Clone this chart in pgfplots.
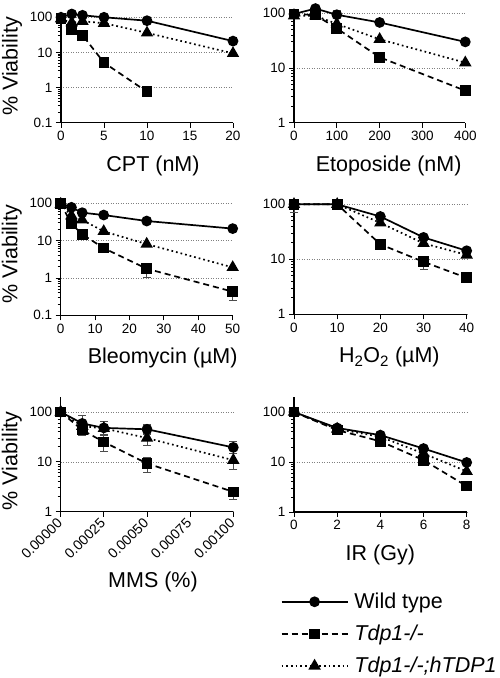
\documentclass[border=0pt]{standalone}
\usepackage{fontspec}
\setmainfont{Liberation Sans}
\usepackage{pgfplots}
\pgfplotsset{compat=1.18}
\pgfplotsset{
  vpanel/.style={
    scale only axis,
    axis lines=left,
    axis line style={-, line width=1.1pt},
    tick align=outside,
    major tick length=5pt,
    minor tick length=3pt,
    every tick/.style={black, line width=0.9pt},
    ymajorgrids,
    major grid style={gray, dash pattern=on 1pt off 1.5pt, line width=0.5pt},
    enlargelimits=false,
    clip=false,
    scaled x ticks=false,
    xtick pos=bottom, ytick pos=left,
    tick label style={font=\fontsize{13.5}{15}\selectfont},
    label style={font=\fontsize{21.5}{25}\selectfont},
    xlabel style={at={(axis description cs:0.5,0)}, anchor=center, yshift=-43pt},
    ylabel style={at={(axis description cs:0,0.5)}, anchor=center, yshift=49pt},
  },
  ebar/.style={error bars/.cd, y dir=both, y explicit,
    error bar style={line width=0.9pt, black!70, solid},
    error mark options={rotate=90, mark size=4pt, line width=0.9pt, black!70}},
  wt/.style={black, line width=1.7pt, solid, mark=*, mark size=4.5pt, mark options={solid, fill=black}},
  ko/.style={black, line width=1.7pt, dash pattern=on 6pt off 4pt, mark=square*, mark size=4.5pt, mark options={solid, fill=black}},
  re/.style={black, line width=1.7pt, dash pattern=on 1.7pt off 3pt, mark=triangle*, mark size=5.5pt, mark options={solid, fill=black}},
}
\begin{document}
\begin{tikzpicture}
\path[use as bounding box] (0pt,0pt) rectangle (500pt,678pt);

% ---------- CPT ----------
\begin{axis}[vpanel, ymode=log, /pgf/number format/assume math mode=true,
  at={(61pt,555.3pt)}, anchor=south west, width=172pt, height=105.4pt,
  xmin=0, xmax=20, ymin=0.1, ymax=100,
  xtick={0,5,10,15,20}, ytick={0.1,1,10,100}, yticklabels={0.1,1,10,100},
  xlabel={CPT (nM)}, ylabel={\% Viability},
  xlabel style={xshift=6pt}, ylabel style={xshift=3.5pt}]
\addplot[wt] coordinates {(0,100) (1.25,124) (2.5,114) (5,100) (10,80) (20,21)};
\addplot[re] coordinates {(0,90) (1.25,70) (2.5,77) (5,68) (10,36) (20,9.4)};
\addplot[ko] coordinates {(0,94) (1.25,45) (2.5,31) (5,5.1) (10,0.76)};
\end{axis}

% ---------- Etoposide ----------
\begin{axis}[vpanel, ymode=log, /pgf/number format/assume math mode=true,
  at={(294pt,555.3pt)}, anchor=south west, width=171.3pt, height=109.4pt,
  xmin=0, xmax=400, ymin=1, ymax=100,
  xtick={0,100,200,300,400}, ytick={1,10,100}, yticklabels={1,10,100},
  xlabel={Etoposide (nM)}, xlabel style={xshift=9pt}]
\addplot[wt, ebar] coordinates {(0,97) (50,122) (100,94) += (0,21) -= (0,10) (200,68) (400,30)};
\addplot[re] coordinates {(0,90) (50,90) (100,64) (200,33.5) (400,12.5)};
\addplot[ko] coordinates {(0,97) (50,93) (100,53) (200,15.7) (400,3.85)};
\end{axis}

% ---------- Bleomycin ----------
\begin{axis}[vpanel, ymode=log, /pgf/number format/assume math mode=true,
  at={(60.7pt,362.7pt)}, anchor=south west, width=172pt, height=112pt,
  xmin=0, xmax=50, ymin=0.1, ymax=100,
  xtick={0,10,20,30,40,50}, ytick={0.1,1,10,100}, yticklabels={0.1,1,10,100},
  xlabel={Bleomycin (\textmu M)}, ylabel={\% Viability},
  xlabel style={xshift=16pt}, ylabel style={xshift=5pt}]
\addplot[wt] coordinates {(0,100) (3.125,78) (6.25,56) (12.5,48.5) (25,33.5) (50,21)};
\addplot[re] coordinates {(0,95) (3.125,46.5) (6.25,36) (12.5,17.7) (25,8.1) (50,1.92)};
\addplot[ko, ebar] coordinates {(0,100) (3.125,28) (6.25,14.8) (12.5,6.3) (25,1.77) += (0,0.7) -= (0,0.75) (50,0.43) += (0,0.15) -= (0,0.185)};
\end{axis}

% ---------- H2O2 ----------
\begin{axis}[vpanel, ymode=log, /pgf/number format/assume math mode=true,
  at={(294pt,363.7pt)}, anchor=south west, width=172.7pt, height=110pt,
  xmin=0, xmax=40, ymin=1, ymax=100,
  xtick={0,10,20,30,40}, ytick={1,10,100}, yticklabels={1,10,100},
  xlabel={H\textsubscript{2}O\textsubscript{2} (\textmu M)}, xlabel style={xshift=9pt}]
\addplot[wt] coordinates {(0,100) (10,100) (20,60) (30,25) (40,14.3)};
\addplot[re] coordinates {(0,100) (10,100) (20,46) (30,19.5) (40,12)};
\addplot[ko, ebar] coordinates {(0,100) += (0,0) -= (0,30) (10,100) (20,18.7) (30,9.0) += (0,1.3) -= (0,2.4) (40,4.6)};
\end{axis}

% ---------- MMS ----------
\begin{axis}[vpanel, ymode=log, /pgf/number format/assume math mode=true,
  at={(60.7pt,166.3pt)}, anchor=south west, width=172.6pt, height=114.7pt,
  xmin=0, xmax=0.001, ymin=1, ymax=200,
  xtick={0,0.00025,0.0005,0.00075,0.001},
  xticklabels={0.00000,0.00025,0.00050,0.00075,0.00100},
  xticklabel style={rotate=45, anchor=east, font=\fontsize{14}{16}\selectfont, yshift=-2pt},
  ytick={1,10,100}, yticklabels={1,10,100},
  xlabel={MMS (\%)}, ylabel={\% Viability},
  xlabel style={xshift=6pt, yshift=-27pt}, ylabel style={xshift=-6.5pt}]
\addplot[wt, ebar] coordinates {(0,100) (0.000125,59) += (0,28) -= (0,15) (0.00025,48) += (0,17) -= (0,13) (0.0005,45) += (0,10) -= (0,7) (0.001,19.5) += (0,6) -= (0,4.5)};
\addplot[re, ebar] coordinates {(0,100) (0.000125,52) (0.00025,47) (0.0005,30) += (0,6) -= (0,9) (0.001,10.8) += (0,4) -= (0,3.9)};
\addplot[ko, ebar] coordinates {(0,100) (0.000125,43.5) += (0,12) -= (0,10) (0.00025,25) += (0,9.6) -= (0,9.2) (0.0005,9.3) += (0,3.1) -= (0,3.3) (0.001,2.5) += (0,0.6) -= (0,0.7)};
\end{axis}

% ---------- IR ----------
\begin{axis}[vpanel, ymode=log, /pgf/number format/assume math mode=true,
  at={(294pt,166pt)}, anchor=south west, width=172.7pt, height=115pt,
  xmin=0, xmax=8, ymin=1, ymax=200,
  xtick={0,2,4,6,8}, ytick={1,10,100}, yticklabels={1,10,100},
  xlabel={IR (Gy)},
  legend style={at={(axis description cs:-0.078,-0.696)}, anchor=north west, draw=none, fill=none,
    font=\fontsize{21.5}{26}\selectfont, inner sep=0pt, row sep=13pt,
    nodes={inner sep=1pt},
    /tikz/every odd column/.append style={column sep=5pt}},
  legend cell align=left,
  legend image code/.code={\draw[mark repeat=2,mark phase=2,#1] plot coordinates {(0pt,0pt) (33pt,0pt) (66pt,0pt)};}]
\addlegendimage{wt}\addlegendentry{Wild type}
\addlegendimage{ko}\addlegendentry{\textit{Tdp1-/-}}
\addlegendimage{re}\addlegendentry{\textit{Tdp1-/-;hTDP1}}
\addplot[wt, forget plot] coordinates {(0,100) (2,48) (4,34.5) (6,18.6) (8,9.8)};
\addplot[re, forget plot] coordinates {(0,100) (2,45.7) (4,32) (6,14.8) (8,6.5)};
\addplot[ko, forget plot, ebar] coordinates {(0,100) (2,43.5) (4,26) (6,10.9) (8,3.3) +- (0,0.4)};
\end{axis}
\end{tikzpicture}
\end{document}
